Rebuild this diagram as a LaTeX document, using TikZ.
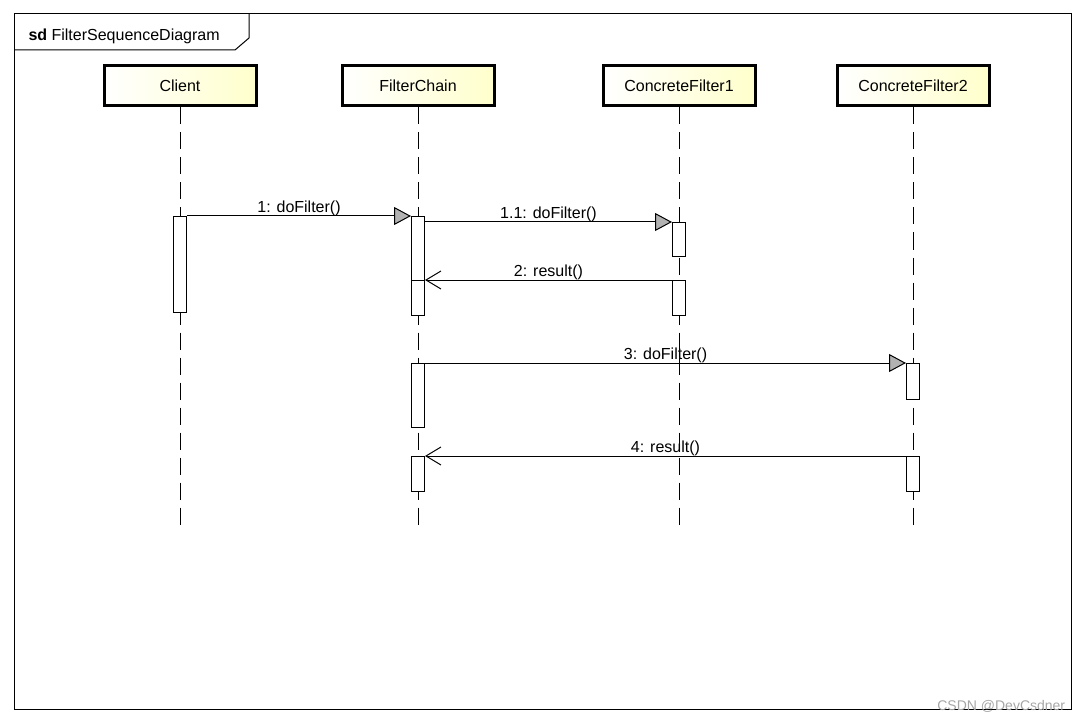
\documentclass[tikz,border=0pt]{standalone}
\usepackage{xcolor}
\usepackage{fontspec}
\setmainfont{Liberation Sans}
\usepackage{tikz}
\usetikzlibrary{arrows.meta}

\begin{document}
\begin{tikzpicture}[x=1pt, y=-1pt, line width=1pt,
        font=\fontsize{16}{19}\selectfont,
        head/.style={draw, line width=3pt, minimum width=152pt, minimum height=40pt,
            left color=white, right color=yellow!20, inner sep=0pt},
        act/.style={draw, fill=white, anchor=north, minimum width=13pt, inner sep=0pt},
        lifeline/.style={dash pattern=on 17pt off 8pt},
        call/.style={-{Triangle[length=17pt, width=18pt, fill=gray!60]}},
        reply/.style={-{Straight Barb[length=15pt, width=18pt]}},
        msg/.style={above, inner sep=0pt, outer sep=0pt}]
        \useasboundingbox (0, 0) rectangle (1084, 722);
        \draw (14, 14) rectangle (1071, 709);
        \draw (14, 50) -- (235, 50) -- (249, 38) -- (249, 14);
        \node[anchor=base west, inner sep=0pt] at (28, 41) (title) {\textbf{sd} FilterSequenceDiagram};
        \node[head] at (180, 86) (client) {Client};
        \node[head] at (418, 86) (chain) {FilterChain};
        \node[head] at (679, 86) (filter1) {ConcreteFilter1};
        \node[head] at (913, 86) (filter2) {ConcreteFilter2};
        \coordinate (bottom) at (0, 527);
        \draw[lifeline] (client) -- (client |- bottom);
        \draw[lifeline] (chain) -- (chain |- bottom);
        \draw[lifeline] (filter1) -- (filter1 |- bottom);
        \draw[lifeline] (filter2) -- (filter2 |- bottom);
        \node[act, minimum height=96pt] at (180, 216) (client1) {};
        \node[act, minimum height=64pt] at (418, 216) (chain1) {};
        \node[act, minimum height=35pt] at (418, 280) (chain2) {};
        \node[act, minimum height=64pt] at (418, 363) (chain3) {};
        \node[act, minimum height=35pt] at (418, 456) (chain4) {};
        \node[act, minimum height=34pt] at (679, 222) (filter1a) {};
        \node[act, minimum height=35pt] at (679, 280) (filter1b) {};
        \node[act, minimum height=36pt] at (913, 363) (filter2a) {};
        \node[act, minimum height=35pt] at (913, 456) (filter2b) {};
        \draw[call] (client1.north east) -- node[midway, msg] {1: doFilter()} (chain1.north west);
        \draw[call] (chain1.east |- filter1a.north) -- node[midway, msg] {1.1: doFilter()} (filter1a.north west);
        \draw[reply] (filter1b.north west) -- node[midway, msg] {2: result()} (chain2.north east);
        \draw[call] (chain3.north east) -- node[midway, msg] {3: doFilter()} (filter2a.north west);
        \draw[reply] (filter2b.north west) -- node[midway, msg] {4: result()} (chain4.north east);
        \node[anchor=east, text=gray!70, font=\fontsize{14}{16}\selectfont] at (1069, 706) (mark) {CSDN @DevCsdner};
    \end{tikzpicture}
\end{document}
